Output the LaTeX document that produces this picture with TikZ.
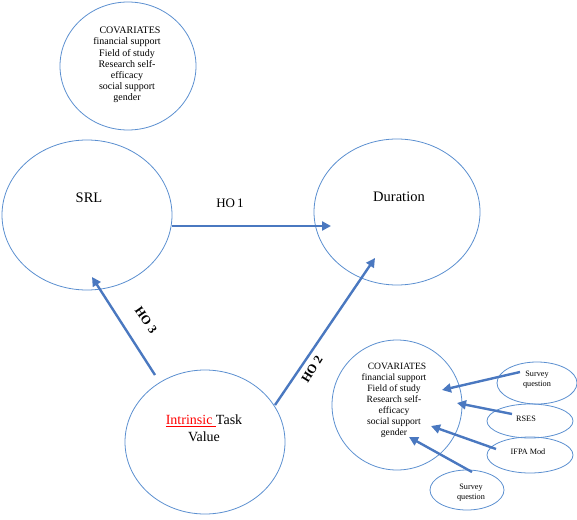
\documentclass[tikz,border=0pt]{standalone}
\usepackage{fontspec}
\setmainfont{Liberation Serif}
\usetikzlibrary{shapes.geometric,arrows.meta}
\definecolor{ringblue}{HTML}{5B8FD0}
\definecolor{arrowblue}{HTML}{4A78C0}
\tikzset{
  ring/.style={draw=ringblue,line width=0.8pt,ellipse,inner sep=0pt},
  bigarrow/.style={draw=arrowblue,line width=2.4pt,-{Triangle[length=9pt,width=9pt]}},
  covtext/.style={align=center,font=\fontsize{10}{11.2}\selectfont,inner sep=0pt},
  covtextb/.style={align=center,font=\fontsize{9.6}{11}\selectfont,inner sep=0pt},
  smalltext/.style={align=center,font=\fontsize{8.2}{10}\selectfont,inner sep=0pt},
  hotext/.style={font=\fontsize{12.5}{14}\selectfont\bfseries,inner sep=0pt},
  bigtext/.style={font=\fontsize{14.5}{17}\selectfont,inner sep=0pt},
}
\begin{document}
\begin{tikzpicture}[x=1pt,y=-1pt]
\useasboundingbox (0,0) rectangle (577,519);
% ellipses
\node[ring,minimum width=136pt,minimum height=128pt] (covtop) at (128,66) {};
\node[ring,minimum width=170pt,minimum height=150pt] (srl) at (87,215) {};
\node[ring,minimum width=166pt,minimum height=146pt] (dur) at (397,212) {};
\node[ring,minimum width=160pt,minimum height=144pt] (itv) at (205,442) {};
\node[ring,minimum width=130pt,minimum height=130pt] (covbot) at (397,405) {};
\node[ring,minimum width=80pt,minimum height=42pt] (sq1) at (537,383) {};
\node[ring,minimum width=86pt,minimum height=34pt] (rses) at (530,421) {};
\node[ring,minimum width=86pt,minimum height=36pt] (ifpa) at (530,455) {};
\node[ring,minimum width=74pt,minimum height=40pt] (sq2) at (467,490) {};
% texts
\node[covtext] (covtoptxt) at (127,65) {\hspace*{6pt}COVARIATES\\financial support\\Field of study\\Research self-\\efficacy\\social support\\gender};
\node[covtextb] (covbottxt) at (394,400) {\hspace*{6pt}COVARIATES\\financial support\\Field of study\\Research self-\\efficacy\\social support\\gender};
\node[bigtext] (srltxt) at (89,198) {SRL};
\node[bigtext] (durtxt) at (399,197) {Duration};
\node[align=center,font=\fontsize{14}{17}\selectfont,inner sep=0pt] (itvtxt) at (204,428) {{\color{red}\underline{Intrinsic }}Task\\Value};
\node[smalltext] (sq1txt) at (537,380) {Survey\\question};
\node[smalltext] (rsestxt) at (526,419) {RSES};
\node[smalltext] (ifpatxt) at (528,452) {IFPA Mod};
\node[smalltext] (sq2txt) at (471,493) {Survey\\question};
% arrow end points
\coordinate (e1) at (331,226);
\coordinate (s2) at (275,405);
\coordinate (e2) at (375,258);
\coordinate (s3) at (155,375);
\coordinate (e3) at (92,277);
\coordinate (a1s) at (520,372);
\coordinate (a1e) at (442,390);
\coordinate (a2s) at (512,414);
\coordinate (a2e) at (457,403);
\coordinate (a3s) at (496,449);
\coordinate (a3e) at (431,426);
\coordinate (a4s) at (472,472);
\coordinate (a4e) at (409,437);
% arrows
\draw[bigarrow] (srl.east |- e1) -- (e1);
\draw[bigarrow] (s2) -- (e2);
\draw[bigarrow] (s3) -- (e3);
\draw[bigarrow] (a1s) -- (a1e);
\draw[bigarrow] (a2s) -- (a2e);
\draw[bigarrow] (a3s) -- (a3e);
\draw[bigarrow] (a4s) -- (a4e);
% labels
\node[font=\fontsize{13}{15}\selectfont,inner sep=0pt] (ho1) at (230,203) {HO\,1};
\node[hotext,rotate=-55] (ho3) at (146,320) {HO 3};
\node[hotext,rotate=58] (ho2) at (312,369) {HO 2};
\end{tikzpicture}
\end{document}
